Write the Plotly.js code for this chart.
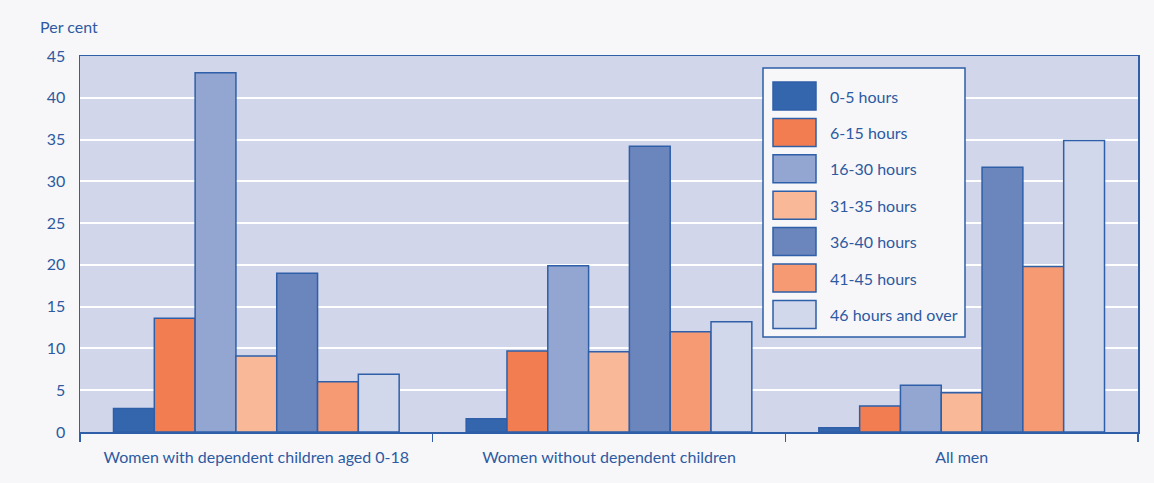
<!DOCTYPE html>
<html>
<head>
<meta charset="utf-8">
<script src="https://cdn.plot.ly/plotly-3.0.1.min.js"></script>
<style>
  html, body { margin: 0; padding: 0; background: #f7f7fa; }
  #chart { width: 1154px; height: 483px; }
</style>
</head>
<body>
<div id="chart"></div>
<script>
// Groups along the x axis
const groups = [
  "Women with dependent children aged 0-18",
  "Women without dependent children",
  "All men"
];

// Usual weekly hours bands
const bands = [
  "0-5 hours",
  "6-15 hours",
  "16-30 hours",
  "31-35 hours",
  "36-40 hours",
  "41-45 hours",
  "46 hours and over"
];

// Per cent in each band, one value per group
const hours0to5   = [2.8, 1.6, 0.5];
const hours6to15  = [13.6, 9.7, 3.1];
const hours16to30 = [43.0, 19.9, 5.6];
const hours31to35 = [9.1, 9.6, 4.7];
const hours36to40 = [19.0, 34.2, 31.7];
const hours41to45 = [6.0, 12.0, 19.8];
const hours46plus = [6.9, 13.2, 34.9];

const yTicks = [0, 5, 10, 15, 20, 25, 30, 35, 40, 45];

const seriesValues = [hours0to5, hours6to15, hours16to30, hours31to35,
                      hours36to40, hours41to45, hours46plus];
const fills = ["#3466ad", "#f27d50", "#93a6d1", "#f9b998",
               "#6b85bd", "#f59a72", "#d2d8ec"];
const edge = "#2e5fa8";
const ink = "#2d5aa0";
const font = "Lato, 'Open Sans', sans-serif";

const traces = bands.map((name, i) => ({
  type: "bar",
  name: name,
  x: groups,
  y: seriesValues[i],
  marker: { color: fills[i], line: { color: edge, width: 1.5 } },
  showlegend: false,
  hoverinfo: "x+y+name"
}));

// Plot area in pixels, used to place the key box
const W = 1154, H = 483;
const mL = 80, mR = 16, mT = 56, mB = 51;
const pw = W - mL - mR, ph = H - mT - mB;
const px = x => (x - mL) / pw;
const py = y => (H - mB - y) / ph;

const shapes = [];
const annotations = [];

// Key box
shapes.push({
  type: "rect", xref: "paper", yref: "paper", layer: "above",
  x0: px(763), x1: px(965), y0: py(337), y1: py(68),
  fillcolor: "#f7f7fa", line: { color: edge, width: 1.5 }
});
bands.forEach((name, i) => {
  const cy = 96 + i * 36.4;
  shapes.push({
    type: "rect", xref: "paper", yref: "paper", layer: "above",
    x0: px(773), x1: px(816), y0: py(cy + 14), y1: py(cy - 14),
    fillcolor: fills[i], line: { color: edge, width: 1.5 }
  });
  annotations.push({
    xref: "paper", yref: "paper", x: px(828), y: py(cy),
    xanchor: "left", yanchor: "middle", showarrow: false,
    text: name, font: { family: font, size: 16, color: ink }
  });
});

// Unit label above the y axis
annotations.push({
  xref: "paper", yref: "paper", x: px(38), y: py(27),
  xanchor: "left", yanchor: "middle", showarrow: false,
  text: "Per cent", font: { family: font, size: 16, color: ink }
});

const layout = {
  width: W, height: H,
  margin: { l: mL, r: mR, t: mT, b: mB, pad: 0 },
  paper_bgcolor: "#f7f7fa",
  plot_bgcolor: "#d1d6eb",
  barmode: "group",
  bargap: 0.19,
  bargroupgap: 0,
  font: { family: font, size: 16, color: ink },
  showlegend: false,
  xaxis: {
    type: "category",
    showline: true, linecolor: edge, linewidth: 1.5, mirror: true,
    ticks: "outside", tickson: "boundaries", ticklen: 8,
    tickcolor: edge, tickwidth: 1.5,
    ticklabelstandoff: 10,
    showgrid: false,
    tickfont: { family: font, size: 16, color: ink }
  },
  yaxis: {
    range: [0, 45],
    tickvals: yTicks,
    showline: true, linecolor: edge, linewidth: 1.5, mirror: true,
    ticks: "outside", ticklen: 10, tickcolor: "rgba(0,0,0,0)",
    showgrid: true, gridcolor: "#ffffff", gridwidth: 2,
    zeroline: false,
    tickfont: { family: font, size: 16, color: ink }
  },
  shapes: shapes,
  annotations: annotations
};

Plotly.newPlot("chart", traces, layout, { displayModeBar: false, staticPlot: true });
</script>
</body>
</html>
